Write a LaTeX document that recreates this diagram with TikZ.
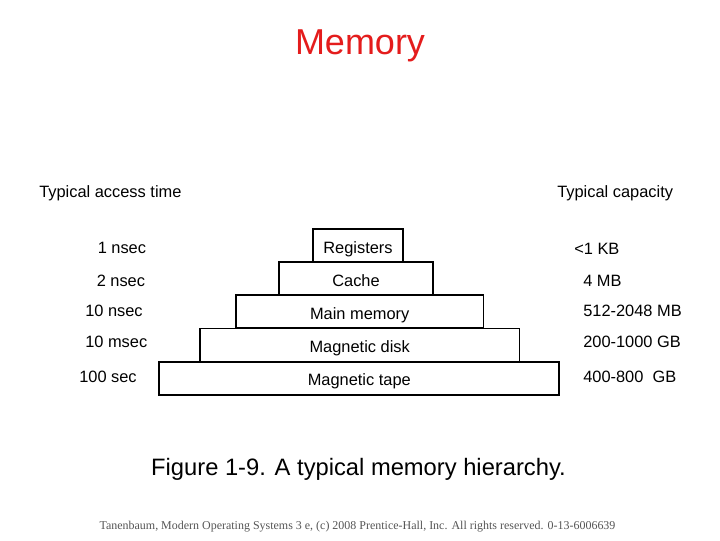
\documentclass[tikz,border=0pt]{standalone}
\usepackage{fontspec}
\setmainfont{Liberation Sans}
\newfontfamily\footfont{Liberation Serif}
\definecolor{titlered}{RGB}{228,28,28}
\definecolor{footgray}{RGB}{85,85,85}
\begin{document}
\begin{tikzpicture}[x=0.75pt,y=-0.75pt,
  lvl/.style={draw=black,line width=1.3pt,inner sep=0pt,outer sep=0pt,minimum height=24.8pt,text height=11.2pt,text depth=0pt,font=\fontsize{12.3}{14}\selectfont},
  lab/.style={anchor=west,inner sep=0pt,font=\fontsize{12.3}{14}\selectfont}]
\useasboundingbox (0,0) rectangle (720,540);
\node[text=titlered,font=\fontsize{27}{30}\selectfont] (title) at (360,46) {Memory};
% boxes
\node[lvl,minimum width=67pt] (reg) at (358,245.8) {Registers};
\node[lvl,minimum width=115pt] (cache) at (356,278.7) {Cache};
\node[lvl,minimum width=185.5pt] (main) at (359.7,311.7) {Main memory};
\node[lvl,minimum width=239.5pt] (disk) at (359.7,345) {Magnetic disk};
\node[lvl,minimum width=300pt] (tape) at (359.3,378.3) {Magnetic tape};
% headers
\node[lab] (hl) at (39,193) {Typical access time};
\node[lab] (hr) at (557,193) {Typical capacity};
% left labels
\node[lab] (t1) at (97.5,247.8) {1 nsec};
\node[lab] (t2) at (96.5,280.5) {2 nsec};
\node[lab] (t3) at (85,311.3) {10 nsec};
\node[lab] (t4) at (85,342) {10 msec};
\node[lab] (t5) at (79,377.2) {100 sec};
% right labels
\node[lab] (c1) at (574,248.5) {<1 KB};
\node[lab] (c2) at (583,281) {4 MB};
\node[lab] (c3) at (583,311.3) {512-2048 MB};
\node[lab] (c4) at (583,342) {200-1000 GB};
\node[lab] (c5) at (583,376.5) {400-800\ \ GB};
% caption
\node[font=\fontsize{17.8}{20}\selectfont] (cap) at (358.5,469.5) {Figure 1-9. A typical memory hierarchy.};
\node[text=footgray,font=\footfont\fontsize{8.98}{10}\selectfont] (foot) at (357.5,527) {Tanenbaum, Modern Operating Systems 3 e, (c) 2008 Prentice-Hall, Inc. All rights reserved. 0-13-6006639};
\end{tikzpicture}
\end{document}
